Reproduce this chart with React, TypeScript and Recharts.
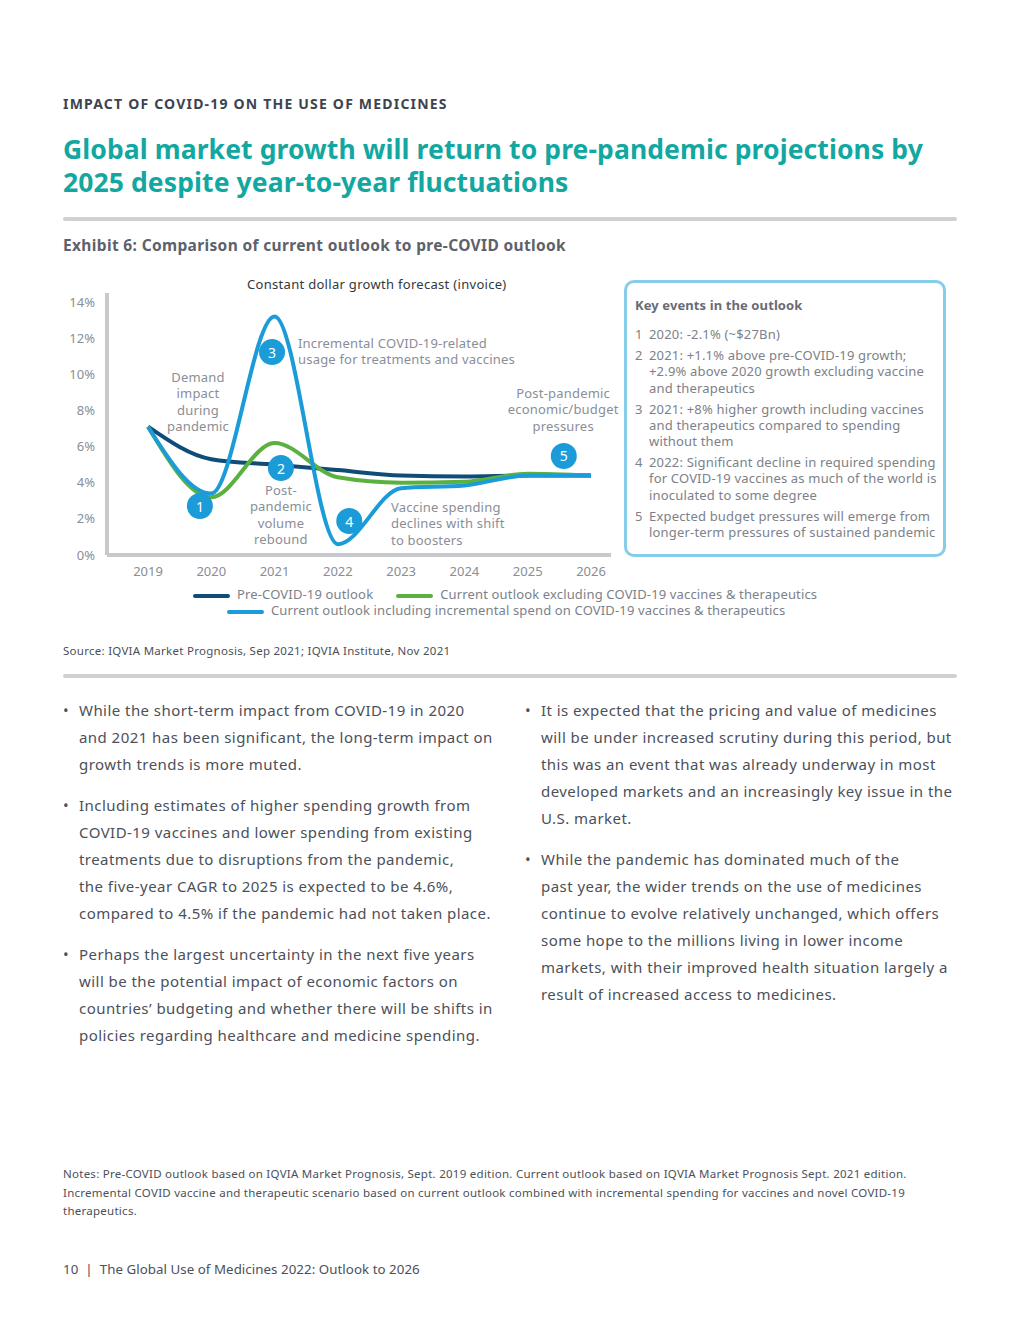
import React from 'react';
import {
  LineChart,
  Line,
  XAxis,
  YAxis,
  ReferenceDot,
} from 'recharts';

const years = [2019, 2020, 2021, 2022, 2023, 2024, 2025, 2026];
const preCovid = [7.1, 5.3, 5.0, 4.7, 4.4, 4.35, 4.4, 4.4];
const currentExcl = [7.1, 3.2, 6.2, 4.3, 4.0, 4.05, 4.5, 4.4];
const currentIncl = [7.1, 3.4, 13.2, 0.6, 3.7, 3.85, 4.4, 4.4];
const yTicks = [0, 2, 4, 6, 8, 10, 12, 14];

// numbered callouts (year, value)
const markerLabels = ['1', '2', '3', '4', '5'];
const markerYears = [2019.82, 2021.1, 2020.96, 2022.18, 2025.57];
const markerValues = [2.71, 4.81, 11.23, 1.88, 5.48];

const noteTexts = [
  ['Demand', 'impact', 'during', 'pandemic'],
  ['Incremental COVID-19-related', 'usage for treatments and vaccines'],
  ['Post-', 'pandemic', 'volume', 'rebound'],
  ['Vaccine spending', 'declines with shift', 'to boosters'],
  ['Post-pandemic', 'economic/budget', 'pressures'],
];
const noteYears = [2019.79, 2021.37, 2021.1, 2022.84, 2025.56];
const noteValues = [9.85, 11.73, 3.6, 2.66, 8.97];
const noteAnchors = ['middle', 'start', 'middle', 'start', 'middle'];

const keyEvents = [
  ['2020: -2.1% (~$27Bn)'],
  ['2021: +1.1% above pre-COVID-19 growth;', '+2.9% above 2020 growth excluding vaccine', 'and therapeutics'],
  ['2021: +8% higher growth including vaccines', 'and therapeutics compared to spending', 'without them'],
  ['2022: Significant decline in required spending', 'for COVID-19 vaccines as much of the world is', 'inoculated to some degree'],
  ['Expected budget pressures will emerge from', 'longer-term pressures of sustained pandemic'],
];

const leftBullets = [
  ['While the short-term impact from COVID-19 in 2020', 'and 2021 has been significant, the long-term impact on', 'growth trends is more muted.'],
  ['Including estimates of higher spending growth from', 'COVID-19 vaccines and lower spending from existing', 'treatments due to disruptions from the pandemic,', 'the five-year CAGR to 2025 is expected to be 4.6%,', 'compared to 4.5% if the pandemic had not taken place.'],
  ['Perhaps the largest uncertainty in the next five years', 'will be the potential impact of economic factors on', 'countries’ budgeting and whether there will be shifts in', 'policies regarding healthcare and medicine spending.'],
];
const rightBullets = [
  ['It is expected that the pricing and value of medicines', 'will be under increased scrutiny during this period, but', 'this was an event that was already underway in most', 'developed markets and an increasingly key issue in the', 'U.S. market.'],
  ['While the pandemic has dominated much of the', 'past year, the wider trends on the use of medicines', 'continue to evolve relatively unchanged, which offers', 'some hope to the millions living in lower income', 'markets, with their improved health situation largely a', 'result of increased access to medicines.'],
];

const notesLines = [
  'Notes: Pre-COVID outlook based on IQVIA Market Prognosis, Sept. 2019 edition. Current outlook based on IQVIA Market Prognosis Sept. 2021 edition.',
  'Incremental COVID vaccine and therapeutic scenario based on current outlook combined with incremental spending for vaccines and novel COVID-19',
  'therapeutics.',
];

const NAVY = '#0f4c78';
const GREEN = '#5ab13f';
const BLUE = '#1b9cd8';
const FONT = '"Noto Sans", "Open Sans", sans-serif';

const data = years.map((y, i) => ({
  year: y,
  pre: preCovid[i],
  excl: currentExcl[i],
  incl: currentIncl[i],
}));

const NoteLabel = (lines: string[], anchor: string) => (props: any) => {
  const { viewBox } = props;
  const x = viewBox.cx ?? viewBox.x;
  const y = viewBox.cy ?? viewBox.y;
  return (
    <text x={x} y={y} textAnchor={anchor as any} fill="#8a8e96" fontSize={13} letterSpacing={0.2} fontFamily={FONT}>
      {lines.map((l, i) => (
        <tspan key={i} x={x} y={y + i * 16.3} dominantBaseline="central">
          {l}
        </tspan>
      ))}
    </text>
  );
};

const MarkerLabel = (txt: string) => (props: any) => {
  const { viewBox } = props;
  const x = viewBox.cx ?? viewBox.x + viewBox.width / 2;
  const y = viewBox.cy ?? viewBox.y + viewBox.height / 2;
  return (
    <text x={x} y={y} textAnchor="middle" dominantBaseline="central" fill="#fff" fontSize={14} fontFamily={FONT}>
      {txt}
    </text>
  );
};

const Bullets = ({ items, left }: { items: string[][]; left: number }) => (
  <div style={{ position: 'absolute', left, top: 697 }}>
    {items.map((lines, i) => (
      <div key={i} style={{ position: 'relative', paddingLeft: 16, marginBottom: 14 }}>
        <span style={{ position: 'absolute', left: 0, top: 0 }}>•</span>
        {lines.map((l, j) => (
          <div key={j} style={{ whiteSpace: 'nowrap' }}>{l}</div>
        ))}
      </div>
    ))}
  </div>
);

const Swatch = ({ color }: { color: string }) => (
  <span style={{ display: 'inline-block', width: 37, height: 4, borderRadius: 2, background: color, marginRight: 7, verticalAlign: 'middle' }} />
);

export default function App() {
  return (
    <div style={{ position: 'absolute', left: 0, top: 0, width: 1020, height: 1320, background: '#fff', fontFamily: FONT, color: '#4b505a', overflow: 'hidden' }}>
      <div style={{ position: 'absolute', left: 63, top: 94, fontSize: 14, fontWeight: 700, color: '#3d4350', letterSpacing: 1.2 }}>
        IMPACT OF COVID-19 ON THE USE OF MEDICINES
      </div>
      <div style={{ position: 'absolute', left: 63, top: 133, width: 920, fontSize: 26.5, lineHeight: '33px', fontWeight: 700, color: '#12a7a1', letterSpacing: 0.1, whiteSpace: 'nowrap' }}>
        Global market growth will return to pre-pandemic projections by
        <br />
        2025 despite year-to-year fluctuations
      </div>
      <div style={{ position: 'absolute', left: 63, top: 217, width: 894, height: 4, background: '#cfd0d4', borderRadius: 2 }} />
      <div style={{ position: 'absolute', left: 63, top: 234, fontSize: 15.5, fontWeight: 700, color: '#5d616b', letterSpacing: 0.35 }}>
        Exhibit 6: Comparison of current outlook to pre-COVID outlook
      </div>

      <div style={{ position: 'absolute', left: 247, top: 275, fontSize: 13, color: '#333840', letterSpacing: 0.3, whiteSpace: 'nowrap' }}>
        Constant dollar growth forecast (invoice)
      </div>

      <div style={{ position: 'absolute', left: 60, top: 270 }}>
        <LineChart width={560} height={320} data={data} margin={{ top: 23, right: 9, bottom: 5, left: 0 }}>
          <XAxis
            dataKey="year"
            type="number"
            domain={[2019, 2026]}
            ticks={years}
            padding={{ left: 41, right: 20 }}
            axisLine={{ stroke: '#c8c9cc', strokeWidth: 4 }}
            tickLine={false}
            tickSize={0}
            tickMargin={12}
            height={30}
            tick={{ fontSize: 13, fill: '#8a8e96', fontFamily: FONT }}
          />
          <YAxis
            domain={[0, 14.5]}
            ticks={yTicks}
            width={47}
            axisLine={{ stroke: '#c8c9cc', strokeWidth: 4 }}
            tickLine={false}
            tickSize={0}
            tickMargin={12}
            tickFormatter={(v) => `${v}%`}
            tick={{ fontSize: 13, fill: '#8a8e96', fontFamily: FONT }}
          />
          <Line type="monotone" dataKey="pre" stroke={NAVY} strokeWidth={4} dot={false} isAnimationActive={false} />
          <Line type="monotone" dataKey="excl" stroke={GREEN} strokeWidth={4} dot={false} isAnimationActive={false} />
          <Line type="monotone" dataKey="incl" stroke={BLUE} strokeWidth={4} dot={false} isAnimationActive={false} />
          {noteTexts.map((lines, i) => (
            <ReferenceDot
              key={'n' + i}
              x={noteYears[i]}
              y={noteValues[i]}
              r={0}
              fill="none"
              stroke="none"
              ifOverflow="visible"
              label={NoteLabel(lines, noteAnchors[i])}
            />
          ))}
          {markerLabels.map((m, i) => (
            <ReferenceDot
              key={'m' + i}
              x={markerYears[i]}
              y={markerValues[i]}
              r={13}
              fill={BLUE}
              stroke="none"
              ifOverflow="visible"
              label={MarkerLabel(m)}
            />
          ))}
        </LineChart>
      </div>

      <div style={{ position: 'absolute', left: 60, top: 586, width: 892, fontSize: 13, letterSpacing: 0.15, color: '#7d8189', lineHeight: '16px' }}>
        <div style={{ position: 'absolute', left: 133, top: 0, whiteSpace: 'nowrap' }}>
          <Swatch color={NAVY} />
          <span style={{ marginRight: 23 }}>Pre-COVID-19 outlook</span>
          <Swatch color={GREEN} />
          <span>Current outlook excluding COVID-19 vaccines &amp; therapeutics</span>
        </div>
        <div style={{ position: 'absolute', left: 167, top: 16, whiteSpace: 'nowrap' }}>
          <Swatch color={BLUE} />
          <span>Current outlook including incremental spend on COVID-19 vaccines &amp; therapeutics</span>
        </div>
      </div>

      <div style={{ position: 'absolute', left: 624, top: 280, width: 322, height: 277, boxSizing: 'border-box', border: '3px solid #86cdea', borderRadius: 10, fontSize: 13, letterSpacing: 0.18, color: '#7d8189', lineHeight: '16.3px' }}>
        <div style={{ position: 'absolute', left: 8, top: 14, fontWeight: 700, fontSize: 13, letterSpacing: 0.1, color: '#686c75' }}>Key events in the outlook</div>
        <div style={{ position: 'absolute', left: 8, top: 43, width: 310 }}>
          {keyEvents.map((lines, i) => (
            <div key={i} style={{ position: 'relative', paddingLeft: 14, marginBottom: 4.7 }}>
              <span style={{ position: 'absolute', left: 0, top: 0 }}>{i + 1}</span>
              {lines.map((l, j) => (
                <div key={j} style={{ whiteSpace: 'nowrap' }}>{l}</div>
              ))}
            </div>
          ))}
        </div>
      </div>

      <div style={{ position: 'absolute', left: 63, top: 643, fontSize: 11.5, letterSpacing: 0.27, color: '#4b505a' }}>
        Source: IQVIA Market Prognosis, Sep 2021; IQVIA Institute, Nov 2021
      </div>
      <div style={{ position: 'absolute', left: 63, top: 674, width: 894, height: 4, background: '#cfd0d4', borderRadius: 2 }} />

      <div style={{ fontSize: 15, lineHeight: '27px', letterSpacing: 0.45, color: '#4b505a' }}>
        <Bullets items={leftBullets} left={63} />
        <Bullets items={rightBullets} left={525} />
      </div>

      <div style={{ position: 'absolute', left: 63, top: 1165, fontSize: 11.5, lineHeight: '18.5px', color: '#4b505a', letterSpacing: 0.26 }}>
        {notesLines.map((l, i) => (
          <div key={i} style={{ whiteSpace: 'nowrap' }}>{l}</div>
        ))}
      </div>
      <div style={{ position: 'absolute', left: 63, top: 1260, fontSize: 13.3, letterSpacing: 0.05, color: '#4b505a' }}>
        10&nbsp;&nbsp;|&nbsp;&nbsp;The Global Use of Medicines 2022: Outlook to 2026
      </div>
    </div>
  );
}
